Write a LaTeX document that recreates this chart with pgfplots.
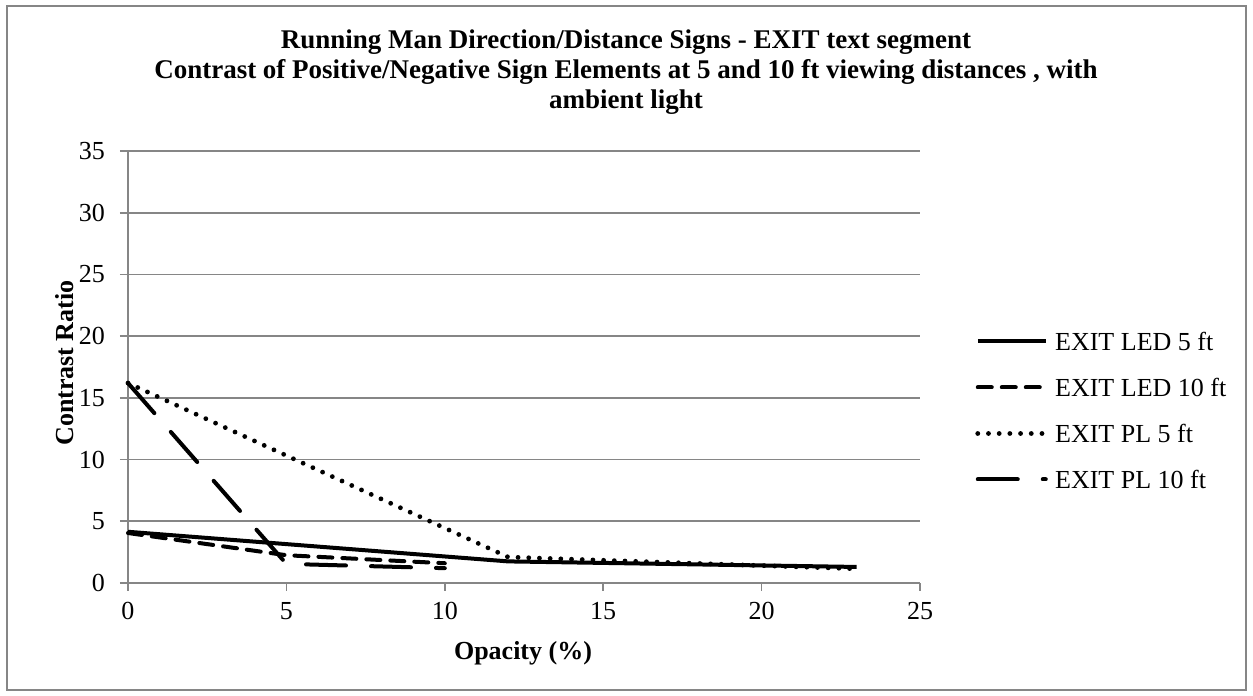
\documentclass[border=0pt]{standalone}
\usepackage{pgfplots}
\pgfplotsset{compat=1.18}
\usepackage{fontspec}
\setmainfont{Liberation Serif}
\definecolor{gridgray}{RGB}{134,134,134}

\begin{document}
\begin{tikzpicture}
% page and outer frame
\path[fill=white] (-64pt,-56.5pt) rectangle (562.5pt,291.5pt);
\draw[gridgray, line width=1pt] (-60.5pt,-53.5pt) rectangle (559pt,288.5pt);
\begin{axis}[
    at={(0pt,0pt)}, anchor=south west,
    scale only axis, width=396pt, height=216pt,
    xmin=0, xmax=25, ymin=0, ymax=35,
    xtick={0,5,10,15,20,25}, ytick={0,5,10,15,20,25,30,35},
    axis x line*=bottom, axis y line*=left,
    axis line style={gridgray, line width=0.8pt, -},
    ymajorgrids, grid style={gridgray, line width=0.8pt},
    tick style={gridgray, line width=0.8pt},
    tick align=outside, major tick length=4pt,
    ticklabel style={font=\fontsize{13}{15}\selectfont},
    /pgf/number format/assume math mode=true,
    yticklabel style={xshift=-4pt},
    xticklabel style={yshift=-2pt},
    clip=false,
    legend style={draw=none, fill=none, at={(1.0694,0.3993)}, anchor=west,
        inner sep=0pt, row sep=14pt,
        nodes={inner sep=0pt, font=\fontsize{13}{15}\selectfont, text height=9pt, text depth=0pt}},
    legend cell align=left,
    /tikz/every odd column/.append style={column sep=3.5pt},
    legend image code/.code={\draw[#1] (0pt,0pt) -- (34pt,0pt);},
]
\addplot[black, line width=2pt] coordinates {(0,4.15) (12,1.75) (23,1.3)};
\addlegendentry{EXIT LED 5 ft}
\addplot[black, line width=2pt, line cap=round, dash pattern=on 7pt off 5pt] coordinates {(0,4.05) (5,2.25) (10,1.6)};
\addlegendentry{EXIT LED 10 ft}
\addplot[black, line width=2.4pt, line cap=round, dash pattern=on 0pt off 5.35pt] coordinates {(0,16.2) (12,2.1) (23,1.15)};
\addlegendentry{EXIT PL 5 ft}
\addplot[black, line width=2pt, line cap=round, dash pattern=on 20pt off 12.5pt] coordinates {(0,16.2) (5,1.55) (10,1.2)};
\addlegendentry{EXIT PL 10 ft}
\end{axis}
% title and axis titles
\node[align=center, font=\bfseries\fontsize{13.5}{15}\selectfont] at (249pt,255.5pt)
    {Running Man Direction/Distance Signs - EXIT text segment\\
     Contrast of Positive/Negative Sign Elements at 5 and 10 ft viewing distances , with\\
     ambient light};
\node[rotate=90, font=\bfseries\fontsize{13}{15}\selectfont] at (-31.5pt,110pt) {Contrast Ratio};
\node[font=\bfseries\fontsize{13}{15}\selectfont] at (197.5pt,-35pt) {Opacity (\%)};
\end{tikzpicture}
\end{document}
